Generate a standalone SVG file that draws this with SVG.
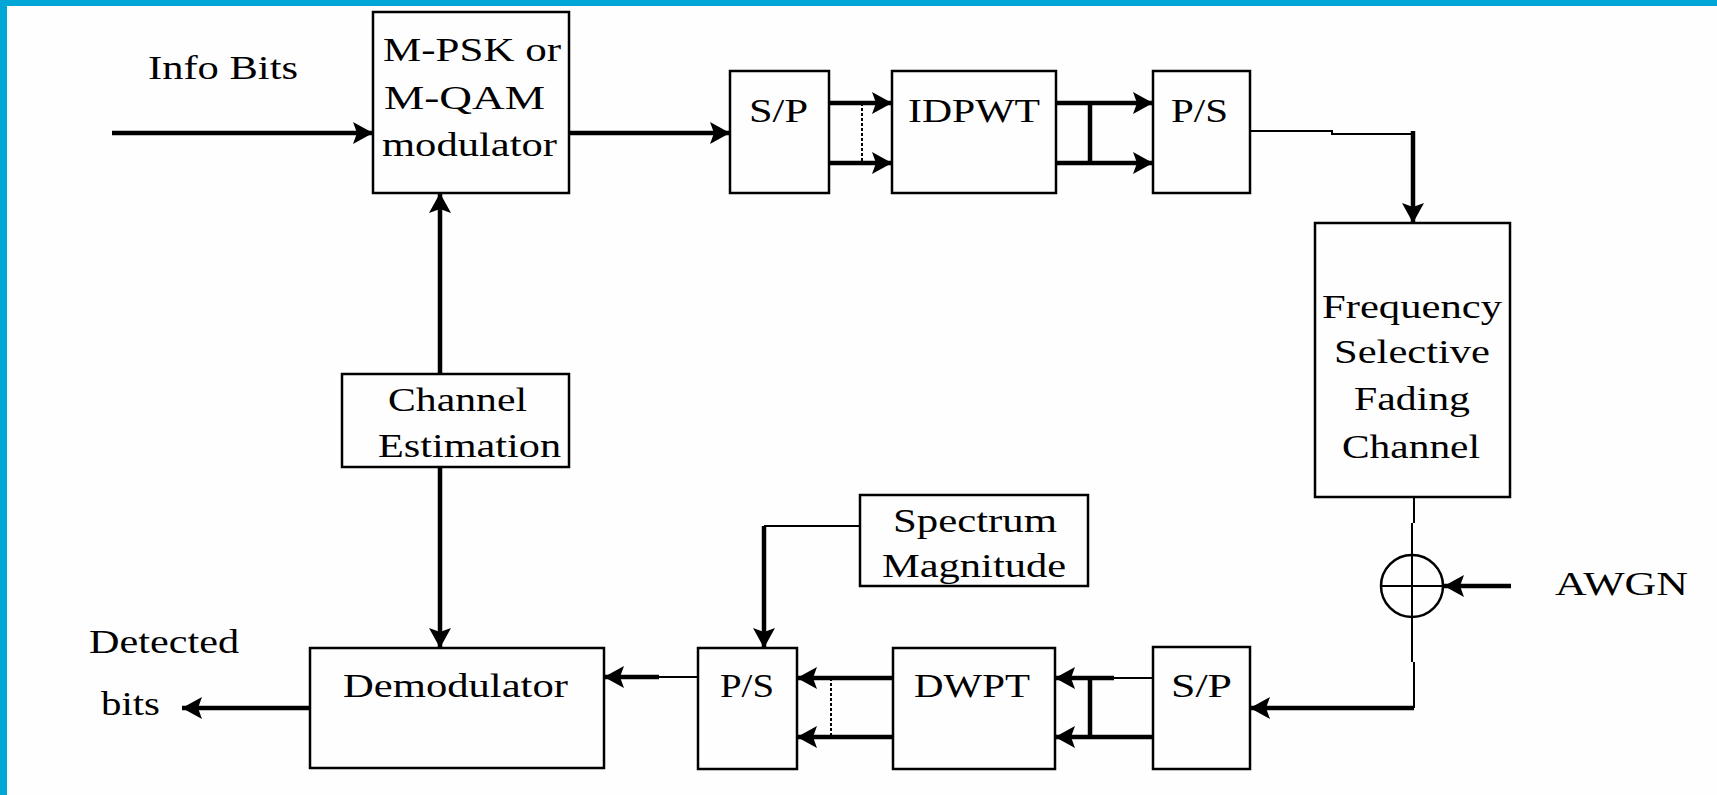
<svg xmlns="http://www.w3.org/2000/svg" width="1717" height="795" viewBox="0 0 1717 795">
<defs>
<style>
.box{fill:none;stroke:#000;stroke-width:2.5}
.t{font-family:"Liberation Serif","Times New Roman",serif;font-size:34px;fill:#000}
.thick{fill:none;stroke:#000;stroke-width:4.5}
.thin{fill:none;stroke:#000;stroke-width:2}
.dot{fill:none;stroke:#000;stroke-width:2;stroke-dasharray:3 2}
</style>
<marker id="ah" markerUnits="userSpaceOnUse" markerWidth="24" markerHeight="24" refX="20" refY="11" orient="auto">
<path d="M0,0 L20,11 L0,22 L4,11 z" fill="#000"/>
</marker>
</defs>
<rect x="0" y="0" width="1717" height="795" fill="#FEFEFE"/>
<rect x="0" y="0" width="1717" height="6" fill="#00A6D6"/>
<rect x="0" y="0" width="7" height="795" fill="#00A6D6"/>

<g id="label-info"><text class="t" x="148" y="79" textLength="150" lengthAdjust="spacingAndGlyphs">Info Bits</text></g>
<g id="modulator">
<rect class="box" x="373" y="12" width="196" height="181"/>
<text class="t" x="383" y="61" textLength="178" lengthAdjust="spacingAndGlyphs">M-PSK or</text>
<text class="t" x="384" y="109" textLength="161" lengthAdjust="spacingAndGlyphs">M-QAM</text>
<text class="t" x="382" y="156" textLength="175" lengthAdjust="spacingAndGlyphs">modulator</text>
</g>
<g id="sp-top">
<rect class="box" x="730" y="71" width="99" height="122"/>
<text class="t" x="749" y="122" textLength="59" lengthAdjust="spacingAndGlyphs">S/P</text>
</g>
<g id="idpwt">
<rect class="box" x="892" y="71" width="164" height="122"/>
<text class="t" x="908" y="122" textLength="132" lengthAdjust="spacingAndGlyphs">IDPWT</text>
</g>
<g id="ps-top">
<rect class="box" x="1153" y="71" width="97" height="122"/>
<text class="t" x="1171" y="122" textLength="57" lengthAdjust="spacingAndGlyphs">P/S</text>
</g>
<g id="fading">
<rect class="box" x="1315" y="223" width="195" height="274"/>
<text class="t" x="1322" y="318" textLength="180" lengthAdjust="spacingAndGlyphs">Frequency</text>
<text class="t" x="1334" y="363" textLength="156" lengthAdjust="spacingAndGlyphs">Selective</text>
<text class="t" x="1354" y="410" textLength="116" lengthAdjust="spacingAndGlyphs">Fading</text>
<text class="t" x="1342" y="458" textLength="138" lengthAdjust="spacingAndGlyphs">Channel</text>
</g>
<g id="adder">
<circle cx="1412" cy="586" r="31" fill="none" stroke="#000" stroke-width="2.5"/>
<line x1="1381" y1="586" x2="1443" y2="586" stroke="#000" stroke-width="2"/>
<line x1="1412" y1="555" x2="1412" y2="617" stroke="#000" stroke-width="2"/>
</g>
<g id="label-awgn"><text class="t" x="1555" y="595" textLength="133" lengthAdjust="spacingAndGlyphs">AWGN</text></g>
<g id="sp-bottom">
<rect class="box" x="1153" y="647" width="97" height="122"/>
<text class="t" x="1171" y="697" textLength="61" lengthAdjust="spacingAndGlyphs">S/P</text>
</g>
<g id="dwpt">
<rect class="box" x="893" y="648" width="162" height="121"/>
<text class="t" x="914" y="697" textLength="116" lengthAdjust="spacingAndGlyphs">DWPT</text>
</g>
<g id="ps-bottom">
<rect class="box" x="698" y="648" width="99" height="121"/>
<text class="t" x="720" y="697" textLength="54" lengthAdjust="spacingAndGlyphs">P/S</text>
</g>
<g id="spectrum">
<rect class="box" x="860" y="495" width="228" height="91"/>
<text class="t" x="893" y="532" textLength="164" lengthAdjust="spacingAndGlyphs">Spectrum</text>
<text class="t" x="882" y="577" textLength="184" lengthAdjust="spacingAndGlyphs">Magnitude</text>
</g>
<g id="demodulator">
<rect class="box" x="310" y="648" width="294" height="120"/>
<text class="t" x="343" y="697" textLength="225" lengthAdjust="spacingAndGlyphs">Demodulator</text>
</g>
<g id="channel-est">
<rect class="box" x="342" y="374" width="227" height="93"/>
<text class="t" x="388" y="411" textLength="139" lengthAdjust="spacingAndGlyphs">Channel</text>
<text class="t" x="378" y="457" textLength="183" lengthAdjust="spacingAndGlyphs">Estimation</text>
</g>
<g id="label-detected">
<text class="t" x="89" y="653" textLength="150" lengthAdjust="spacingAndGlyphs">Detected</text>
<text class="t" x="101" y="715" textLength="59" lengthAdjust="spacingAndGlyphs">bits</text>
</g>

<g id="connectors">
<path class="thick" d="M112,133 H373" marker-end="url(#ah)"/>
<path class="thick" d="M569,133 H730" marker-end="url(#ah)"/>
<path class="thick" d="M829,103 H892" marker-end="url(#ah)"/>
<path class="thick" d="M829,163 H892" marker-end="url(#ah)"/>
<path class="dot" d="M862,103 V163"/>
<path class="thick" d="M1056,103 H1153" marker-end="url(#ah)"/>
<path class="thick" d="M1056,163 H1153" marker-end="url(#ah)"/>
<path class="thick" d="M1090,103 V163"/>
<path class="thin" d="M1250,131 H1332 V134 H1413"/>
<path class="thick" d="M1413,131 V223" marker-end="url(#ah)"/>
<path class="thin" d="M1414,497 V523 M1412,523 V555"/>
<path class="thick" d="M1511,586 H1444" marker-end="url(#ah)"/>
<path class="thin" d="M1412,617 V662 M1414,662 V708"/>
<path class="thick" d="M1414,708 H1250" marker-end="url(#ah)"/>
<path class="thin" d="M1153,678 H1114"/>
<path class="thick" d="M1114,678 H1055" marker-end="url(#ah)"/>
<path class="thick" d="M1153,737 H1055" marker-end="url(#ah)"/>
<path class="thick" d="M1090,678 V737"/>
<path class="thick" d="M893,678 H797" marker-end="url(#ah)"/>
<path class="thick" d="M893,737 H797" marker-end="url(#ah)"/>
<path class="dot" d="M831,678 V737"/>
<path class="thin" d="M860,526 H764"/>
<path class="thick" d="M764,526 V648" marker-end="url(#ah)"/>
<path class="thin" d="M698,677 H659"/>
<path class="thick" d="M659,677 H604" marker-end="url(#ah)"/>
<path class="thick" d="M440,374 V193" marker-end="url(#ah)"/>
<path class="thick" d="M440,467 V648" marker-end="url(#ah)"/>
<path class="thick" d="M310,708 H182" marker-end="url(#ah)"/>
</g>
</svg>
